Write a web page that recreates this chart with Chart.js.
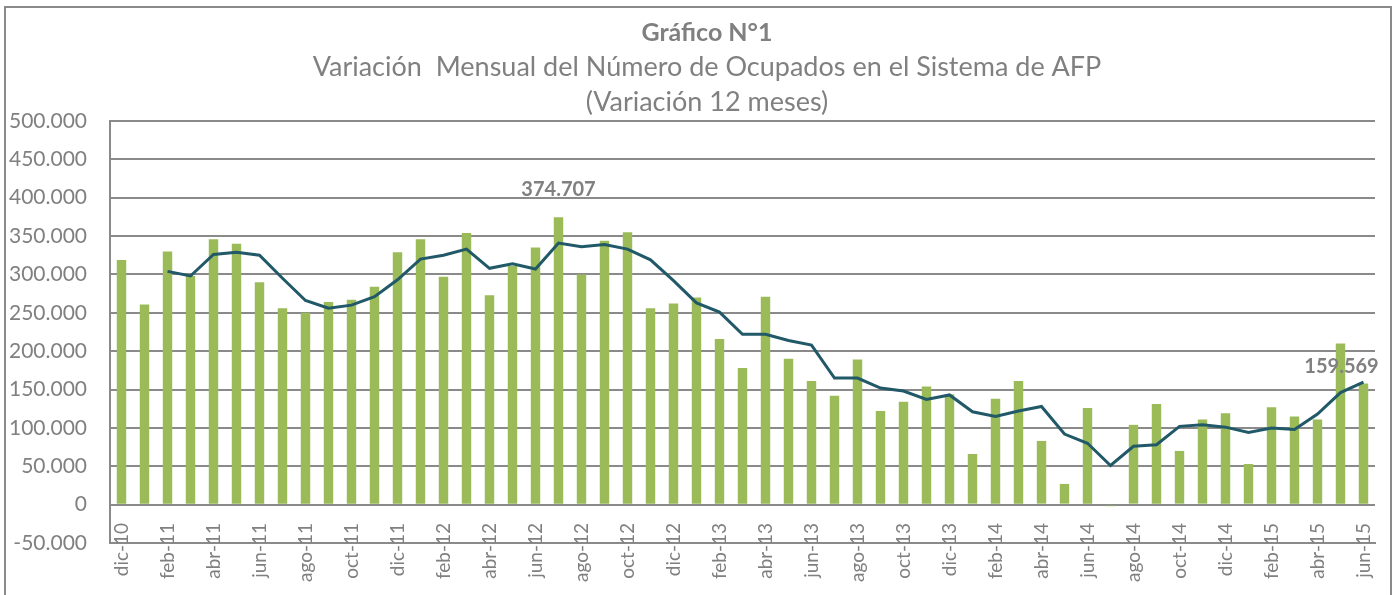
<!DOCTYPE html>
<html>
<head>
<meta charset="utf-8">
<script src="https://cdn.jsdelivr.net/npm/chart.js@4.4.1/dist/chart.umd.min.js"></script>
<style>
  html, body { margin: 0; padding: 0; background: #ffffff; overflow: hidden; }
  #frame { position: absolute; left: 4px; top: 6px; width: 1388px; height: 600px; border: 2px solid #8a8a8a; box-sizing: border-box; }
  #wrap { position: absolute; left: 0; top: 0; width: 1400px; height: 595px; overflow: hidden; }
  canvas { display: block; }
</style>
</head>
<body>
<div id="frame"></div>
<div id="wrap"><canvas id="c" width="1414" height="595"></canvas></div>
<script>
// ---- data ----
const categories = [
  'dic-10',
  'ene-11','feb-11','mar-11','abr-11','may-11','jun-11','jul-11','ago-11','sep-11','oct-11','nov-11','dic-11',
  'ene-12','feb-12','mar-12','abr-12','may-12','jun-12','jul-12','ago-12','sep-12','oct-12','nov-12','dic-12',
  'ene-13','feb-13','mar-13','abr-13','may-13','jun-13','jul-13','ago-13','sep-13','oct-13','nov-13','dic-13',
  'ene-14','feb-14','mar-14','abr-14','may-14','jun-14','jul-14','ago-14','sep-14','oct-14','nov-14','dic-14',
  'ene-15','feb-15','mar-15','abr-15','may-15','jun-15'
];
const monthlyVariation = [
  319000,
  261000, 330000, 298000, 346000, 340000, 290000, 256000, 250000, 264000, 267000, 284000, 329000,
  346000, 297000, 354000, 273000, 311000, 335000, 374707, 300000, 344000, 355000, 256000, 262000,
  270000, 216000, 178000, 271000, 190000, 161000, 142000, 189000, 122000, 134000, 154000, 144000,
  66000, 138000, 161000, 83000, 27000, 126000, -2000, 104000, 131000, 70000, 111000, 119000,
  53000, 127000, 115000, 111000, 210000, 158000
];
const movingAverage = [
  null,
  null, 304000, 298000, 326000, 329000, 325000, 295000, 266000, 256000, 260000, 271000, 293000,
  320000, 325000, 333000, 308000, 314000, 307000, 341000, 336000, 339000, 333000, 319000, 292000,
  263000, 251000, 222000, 222000, 214000, 208000, 165000, 165000, 152000, 148000, 137000, 143000,
  121000, 115000, 122000, 128000, 92000, 80000, 51000, 76000, 78000, 102000, 104000, 101000,
  94000, 100000, 98000, 118000, 146000, 159569
];
const yTicks = [-50000, 0, 50000, 100000, 150000, 200000, 250000, 300000, 350000, 400000, 450000, 500000];
const labelledBar = [19];   // jul-12
const labelledLine = [54];  // jun-15
const titleText = 'Gráfico N°1';
const subtitleText = ['Variación  Mensual del Número de Ocupados en el Sistema de AFP', '(Variación 12 meses)'];

// ---- helpers ----
function fmt(v) {
  const s = Math.round(Math.abs(v)).toString().replace(/\B(?=(\d{3})+(?!\d))/g, '.');
  return (v < 0 ? '-' : '') + s;
}
const GRAY = '#808080';
const FONT = 'Lato, "Open Sans", sans-serif';

const valueLabels = {
  id: 'valueLabels',
  beforeDraw(chart) {
    // let rotated category labels overlap the lowest gridline, as in the original
    chart.scales.x._computeLabelArea = function () { return undefined; };
  },
  afterDatasetsDraw(chart) {
    const ctx = chart.ctx;
    ctx.save();
    ctx.fillStyle = GRAY;
    ctx.font = 'bold 20px ' + FONT;
    ctx.textAlign = 'center';
    ctx.textBaseline = 'alphabetic';
    const barMeta = chart.getDatasetMeta(1);
    labelledBar.forEach(i => {
      const el = barMeta.data[i];
      ctx.fillText(fmt(monthlyVariation[i]), el.x, el.y - 21);
    });
    const lineMeta = chart.getDatasetMeta(0);
    labelledLine.forEach(i => {
      const el = lineMeta.data[i];
      ctx.fillText(fmt(movingAverage[i]), el.x - 22, el.y - 9);
    });
    ctx.restore();
  }
};

new Chart(document.getElementById('c'), {
  data: {
    labels: categories,
    datasets: [
      {
        type: 'line',
        data: movingAverage,
        borderColor: '#215968',
        borderWidth: 3,
        pointRadius: 0,
        tension: 0,
        fill: false,
        order: 0
      },
      {
        type: 'bar',
        data: monthlyVariation,
        backgroundColor: '#9BBB59',
        barPercentage: 0.41,
        categoryPercentage: 1.0,
        order: 1
      }
    ]
  },
  options: {
    responsive: false,
    animation: false,
    layout: { padding: { left: 0, right: 0, top: 0, bottom: 0 } },
    plugins: {
      legend: { display: false },
      tooltip: { enabled: false },
      title: {
        display: true,
        text: titleText,
        color: GRAY,
        font: { family: FONT, size: 25, weight: 'bold', lineHeight: '35px' },
        padding: { top: 15, bottom: 0 }
      },
      subtitle: {
        display: true,
        text: subtitleText,
        color: GRAY,
        font: { family: FONT, size: 27, weight: 'normal', lineHeight: '35px' },
        padding: { top: 0, bottom: 1 }
      }
    },
    scales: {
      x: {
        grid: { display: false, drawTicks: false },
        border: { display: true, color: '#8a8a8a', width: 2 },
        ticks: {
          autoSkip: false,
          maxRotation: 90,
          minRotation: 90,
          padding: -20,
          color: GRAY,
          font: { family: FONT, size: 19 },
          callback: function(value, index) { return index % 2 === 0 ? categories[index] : ''; }
        },
        afterFit(scale) { scale.height = 52; }
      },
      y: {
        min: -50000,
        max: 500000,
        afterBuildTicks(scale) { scale.ticks = yTicks.map(v => ({ value: v })); },
        grid: { color: '#8a8a8a', lineWidth: 2, drawTicks: false },
        border: { display: true, color: '#8a8a8a', width: 2 },
        ticks: {
          padding: 23,
          color: GRAY,
          font: { family: FONT, size: 21 },
          callback: v => fmt(v)
        },
        afterFit(scale) { scale.width = 110; }
      },
      yRight: {
        type: 'linear',
        position: 'right',
        grid: { display: false, drawTicks: false },
        border: { display: false },
        ticks: { display: false },
        afterFit(scale) { scale.width = 39; }
      }
    }
  },
  plugins: [valueLabels]
});
</script>
</body>
</html>
